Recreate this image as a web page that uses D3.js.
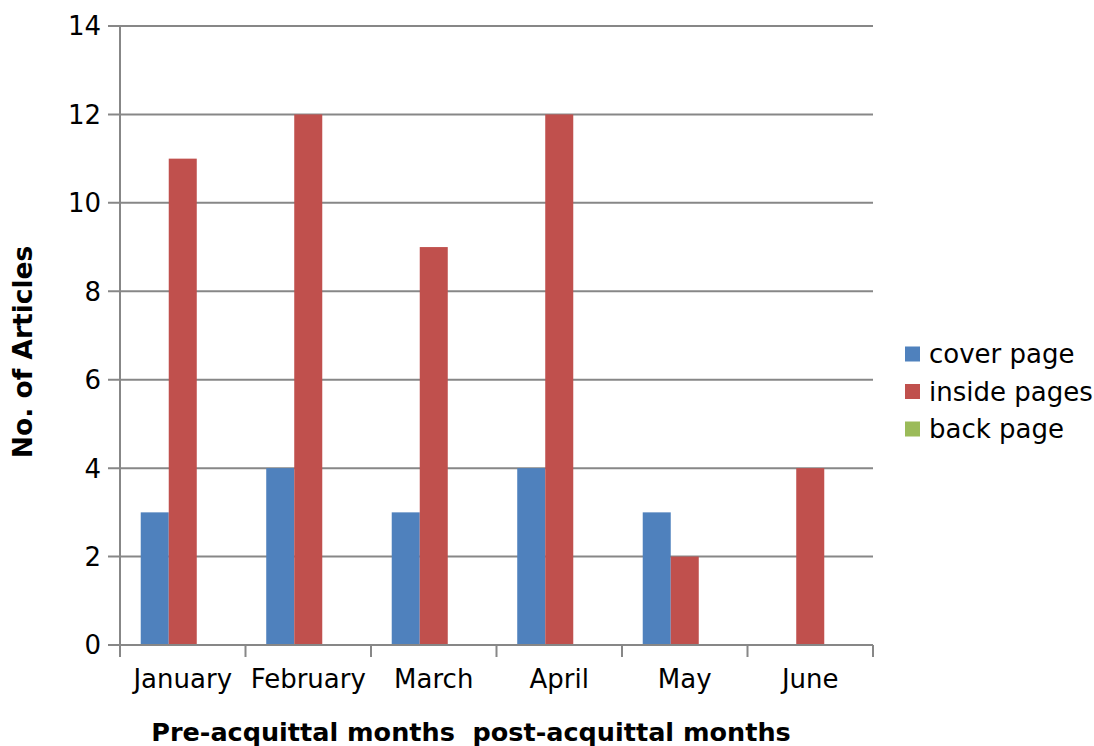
<!DOCTYPE html>
<html>
<head>
<meta charset="utf-8">
<script src="https://cdn.jsdelivr.net/npm/d3@7"></script>
<style>
  html, body { margin: 0; padding: 0; background: #fff; }
  svg { display: block; font-family: "DejaVu Sans", sans-serif; }
</style>
</head>
<body>
<svg id="chart" width="1094" height="746"></svg>
<script>
// Newspaper coverage by month and page placement
const months = ["January", "February", "March", "April", "May", "June"];
const seriesNames = ["cover page", "inside pages", "back page"];
const coverPage = [3, 4, 3, 4, 3, 0];
const insidePages = [11, 12, 9, 12, 2, 4];
const backPage = [0, 0, 0, 0, 0, 0];
const yTicks = [0, 2, 4, 6, 8, 10, 12, 14];
const colors = ["#4F81BD", "#C0504D", "#9BBB59"];

const seriesValues = [coverPage, insidePages, backPage];

const svg = d3.select("#chart");
const plotLeft = 120, plotRight = 873, plotTop = 26, plotBottom = 645;
const gridColor = "#878787";

const x0 = d3.scaleBand().domain(months).range([plotLeft, plotRight]).padding(0);
const x1 = d3.scaleBand().domain(seriesNames).range([0, x0.bandwidth()])
  .paddingInner(0).paddingOuter(0.74);
const y = d3.scaleLinear().domain([0, 14]).range([plotBottom, plotTop]);

// horizontal gridlines with outward ticks
svg.append("g").selectAll("line").data(yTicks).join("line")
  .attr("x1", plotLeft - 12).attr("x2", plotRight)
  .attr("y1", d => y(d)).attr("y2", d => y(d))
  .attr("stroke", gridColor).attr("stroke-width", 2);

// y tick labels
svg.append("g").selectAll("text").data(yTicks).join("text")
  .attr("x", 101).attr("y", d => y(d))
  .attr("dy", "0.36em")
  .attr("text-anchor", "end")
  .attr("font-size", 26)
  .attr("fill", "#000")
  .text(d => d);

// bars
const groups = svg.append("g").selectAll("g").data(months).join("g")
  .attr("transform", d => `translate(${x0(d)},0)`);
groups.selectAll("rect")
  .data((m, i) => seriesNames.map((s, j) => ({ s, v: seriesValues[j][i], c: colors[j] })))
  .join("rect")
  .attr("x", d => x1(d.s))
  .attr("width", x1.bandwidth())
  .attr("y", d => y(d.v))
  .attr("height", d => y(0) - y(d.v))
  .attr("fill", d => d.c);

// axis lines
svg.append("line").attr("x1", plotLeft).attr("x2", plotLeft).attr("y1", plotTop).attr("y2", plotBottom + 1)
  .attr("stroke", gridColor).attr("stroke-width", 2);
svg.append("line").attr("x1", plotLeft - 12).attr("x2", plotRight).attr("y1", plotBottom).attr("y2", plotBottom)
  .attr("stroke", gridColor).attr("stroke-width", 2);

// x category ticks at band boundaries
const boundaries = months.map(m => x0(m)).concat([plotRight]);
svg.append("g").selectAll("line").data(boundaries).join("line")
  .attr("x1", d => d).attr("x2", d => d)
  .attr("y1", plotBottom).attr("y2", plotBottom + 12)
  .attr("stroke", gridColor).attr("stroke-width", 2);

// x tick labels
svg.append("g").selectAll("text").data(months).join("text")
  .attr("x", d => x0(d) + x0.bandwidth() / 2)
  .attr("y", 688)
  .attr("text-anchor", "middle")
  .attr("font-size", 26)
  .attr("fill", "#000")
  .text(d => d);

// axis titles
svg.append("text")
  .attr("x", 471).attr("y", 741)
  .attr("text-anchor", "middle")
  .attr("font-size", 25.5).attr("font-weight", "bold")
  .style("white-space", "pre")
  .text("Pre-acquittal months  post-acquittal months");

svg.append("text")
  .attr("transform", "translate(32,352) rotate(-90)")
  .attr("text-anchor", "middle")
  .attr("font-size", 26.5).attr("font-weight", "bold")
  .text("No. of Articles");

// legend
const legend = svg.append("g").selectAll("g").data(seriesNames).join("g")
  .attr("transform", (d, i) => `translate(905,${354 + i * 37.5})`);
legend.append("rect")
  .attr("x", 0).attr("y", -7.5).attr("width", 15).attr("height", 15)
  .attr("fill", (d, i) => colors[i]);
legend.append("text")
  .attr("x", 24).attr("y", 0).attr("dy", "0.36em")
  .attr("font-size", 26)
  .text(d => d);
</script>
</body>
</html>
